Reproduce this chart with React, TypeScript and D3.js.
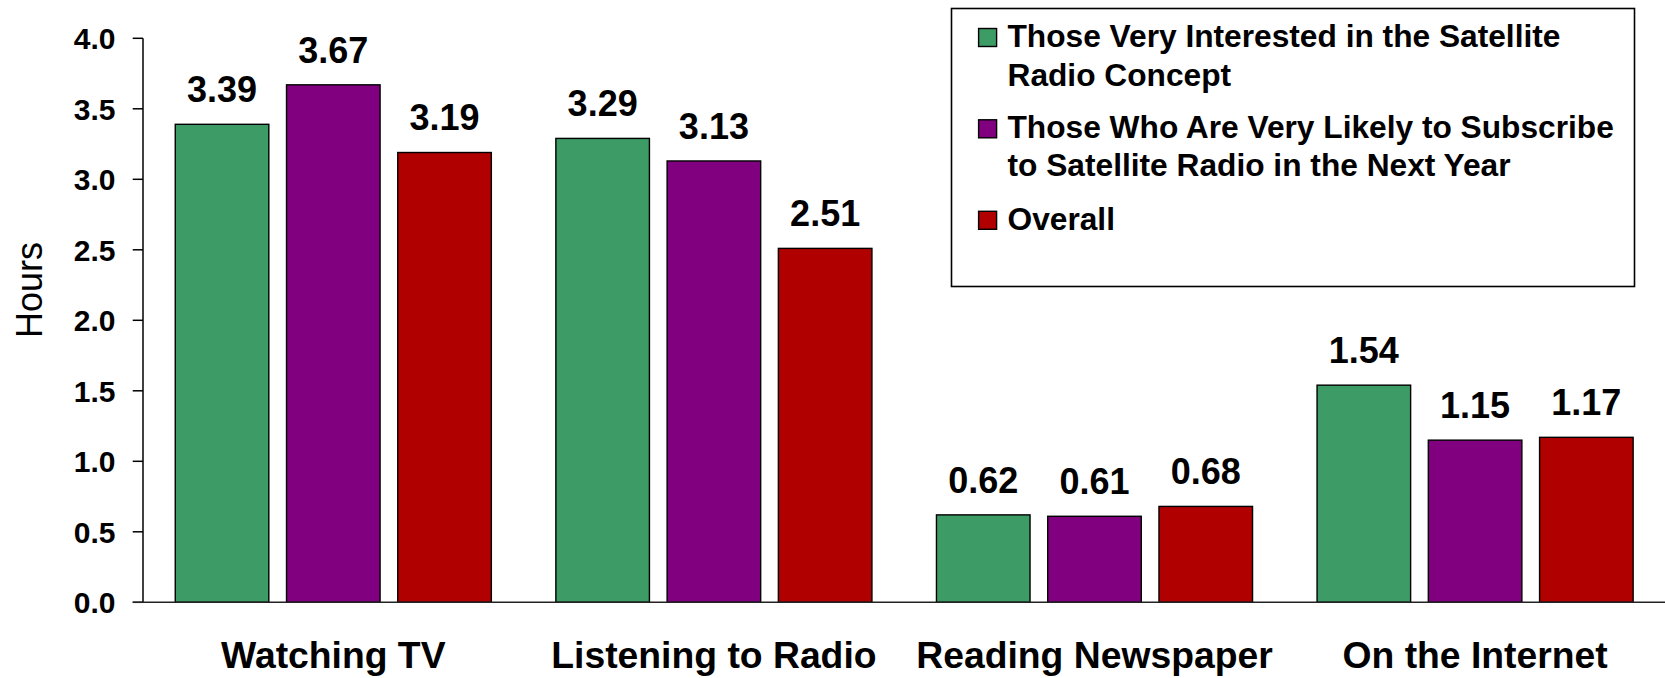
import React from "react";
import * as d3 from "d3";

const categories = ["Watching TV", "Listening to Radio", "Reading Newspaper", "On the Internet"];
const seriesKeys = ["interested", "likely", "overall"];
const interested = [3.39, 3.29, 0.62, 1.54];
const likely = [3.67, 3.13, 0.61, 1.15];
const overall = [3.19, 2.51, 0.68, 1.17];
const seriesValues: Record<string, number[]> = { interested, likely, overall };
const seriesColors = ["#3D9B65", "#800080", "#B00000"];
const legendLines = [
  ["Those Very Interested in the Satellite", "Radio Concept"],
  ["Those Who Are Very Likely to Subscribe", "to Satellite Radio in the Next Year"],
  ["Overall"],
];
const yTicks = [0, 0.5, 1, 1.5, 2, 2.5, 3, 3.5, 4];
const yLabel = "Hours";

const W = 1665;
const H = 678;
const FONT = "'Liberation Sans', Arial, sans-serif";

function SText(props: {
  x: number; y: number; size: number; anchor?: string; weight?: string | number; children: React.ReactNode; sx?: number;
}) {
  const { x, y, size, anchor = "start", weight = "bold", children, sx = 1 } = props;
  return (
    <text
      transform={`translate(${x},${y}) scale(${sx},1)`}
      fontFamily={FONT}
      fontSize={size}
      fontWeight={weight}
      textAnchor={anchor}
      fill="#000"
    >
      {children}
    </text>
  );
}

export default function App() {
  const axisX = 143;
  const y = d3.scaleLinear().domain([0, 4]).range([602.3, 38.3]);
  const x0 = d3.scaleBand<string>().domain(categories).range([axisX, axisX + 4 * 380.6]).paddingInner(0).paddingOuter(0);
  const x1 = d3.scaleBand<string>().domain(seriesKeys).range([0, x0.bandwidth()]).paddingInner(0.159).paddingOuter(0.29);

  return (
    <svg
      width={W}
      height={H}
      style={{ position: "absolute", left: 0, top: 0, display: "block", background: "#fff" }}
    >
      <rect x={0} y={0} width={W} height={H} fill="#fff" />
      {/* bars */}
      {categories.map((c, ci) => (
        <g key={c}>
          {seriesKeys.map((k, si) => {
            const v = seriesValues[k][ci];
            const bx = (x0(c) ?? 0) + (x1(k) ?? 0);
            const bw = x1.bandwidth();
            return (
              <g key={k}>
                <rect
                  x={bx}
                  y={y(v)}
                  width={bw}
                  height={y(0) - y(v)}
                  fill={seriesColors[si]}
                  stroke="#000"
                  strokeWidth={1.4}
                />
                <SText x={bx + bw / 2} y={y(v) - 22.3} size={36} anchor="middle">
                  {v.toFixed(2)}
                </SText>
              </g>
            );
          })}
          <SText x={(x0(c) ?? 0) + x0.bandwidth() / 2} y={668.3} size={37.3} anchor="middle">
            {c}
          </SText>
        </g>
      ))}

      {/* y axis */}
      <line x1={axisX} x2={axisX} y1={y(4)} y2={y(0)} stroke="#000" strokeWidth={1.5} />
      {yTicks.map((t) => (
        <g key={t}>
          <line x1={132.7} x2={axisX} y1={y(t)} y2={y(t)} stroke="#000" strokeWidth={1.5} />
          <SText x={115.5} y={y(t) + 11} size={30} anchor="end">
            {t.toFixed(1)}
          </SText>
        </g>
      ))}
      {/* x axis baseline */}
      <line x1={132.7} x2={W} y1={y(0)} y2={y(0)} stroke="#222" strokeWidth={1.6} />

      {/* y label */}
      <text
        transform={`translate(41.7,290) rotate(-90)`}
        fontFamily={FONT}
        fontSize={36}
        textAnchor="middle"
        fill="#000"
      >
        {yLabel}
      </text>

      {/* legend */}
      <rect x={951.5} y={8.5} width={683} height={278} fill="#fff" stroke="#000" strokeWidth={1.6} />
      {legendLines.map((lines, i) => {
        const baselines = [[46.7, 85.8], [138, 176], [229.5]][i];
        return (
          <g key={i}>
            <rect
              x={978.6}
              y={baselines[0] - 18.2}
              width={18}
              height={18}
              fill={seriesColors[i]}
              stroke="#000"
              strokeWidth={1.4}
            />
            {lines.map((ln, li) => (
              <SText key={li} x={1007.5} y={baselines[li]} size={31.7}>
                {ln}
              </SText>
            ))}
          </g>
        );
      })}
    </svg>
  );
}
